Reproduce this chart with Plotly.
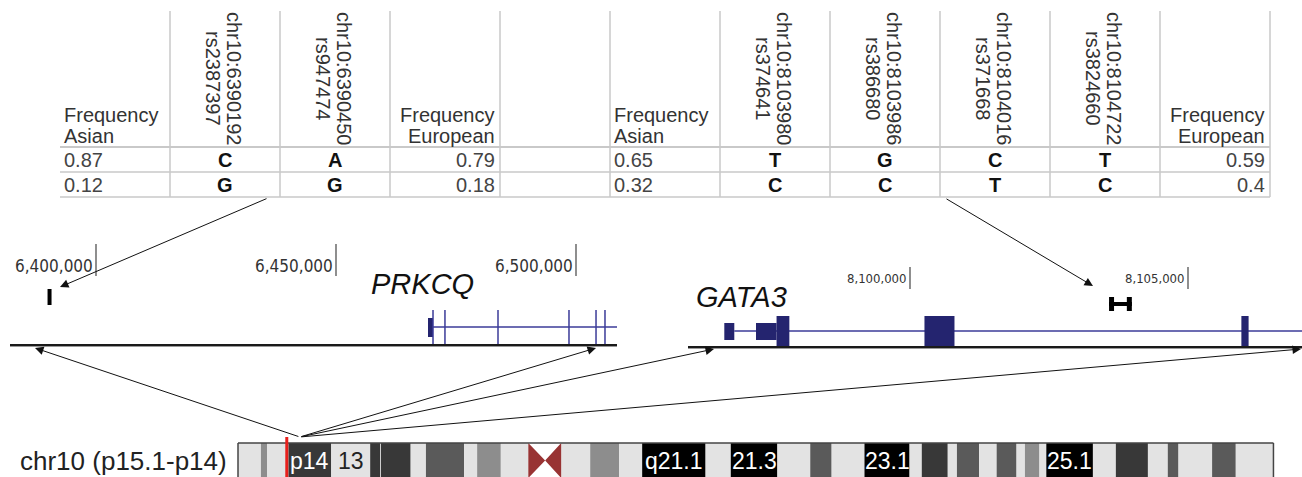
import plotly.graph_objects as go

W, H = 1302, 477

# ---------------- data ----------------
left_snp_pos = ["chr10:6390192", "chr10:6390450"]
left_snp_rs = ["rs2387397", "rs947474"]
left_major = ["C", "A"]
left_minor = ["G", "G"]
left_freq_asian = ["0.87", "0.12"]
left_freq_european = ["0.79", "0.18"]

right_snp_pos = ["chr10:8103980", "chr10:8103986", "chr10:8104016", "chr10:8104722"]
right_snp_rs = ["rs374641", "rs386680", "rs371668", "rs3824660"]
right_major = ["T", "G", "C", "T"]
right_minor = ["C", "C", "T", "C"]
right_freq_asian = ["0.65", "0.32"]
right_freq_european = ["0.59", "0.4"]

# PRKCQ region (bp)
prkcq_ticks = [6400000, 6450000, 6500000]
prkcq_snp_marker = [6390192, 6390450]
prkcq_utr = [6469170, 6470210]
prkcq_exon_marks = [6470210, 6472700, 6483750, 6498540, 6504170, 6506040]

# GATA3 region (bp)
gata3_ticks = [8100000, 8105000]
gata3_snp_marker = [8103580, 8103990]
gata3_utr_start = [8096660, 8097230]
gata3_utr_end = [8096840, 8097600]
gata3_cds_start = [8097600, 8100260, 8105960]
gata3_cds_end = [8097830, 8100800, 8106090]

# chr10 cytobands (Mb)
band_name = ["p15.3", "p15.2", "p15.1", "p14", "p13", "p12.33", "p12.32", "p12.31", "p12.2", "p12.1",
             "p11.23", "p11.22", "p11.21", "p11.1", "q11.1", "q11.21", "q11.22", "q11.23", "q21.1",
             "q21.2", "q21.3", "q22.1", "q22.2", "q22.3", "q23.1", "q23.2", "q23.31", "q23.32",
             "q23.33", "q24.1", "q24.2", "q24.31", "q24.32", "q24.33", "q25.1", "q25.2", "q25.3",
             "q26.11", "q26.12", "q26.13", "q26.2", "q26.3"]
band_start = [0.0, 3.0, 3.8, 6.6, 12.2, 17.3, 18.6, 18.7, 22.6, 24.6, 29.6, 31.3, 34.4, 38.0, 40.2,
              42.3, 46.1, 49.9, 52.9, 61.2, 64.5, 70.6, 74.9, 77.7, 82.0, 87.9, 89.5, 92.9, 94.1,
              97.0, 99.3, 101.9, 103.0, 104.9, 105.8, 111.9, 114.9, 119.1, 121.7, 123.1, 127.5, 130.6]
band_end = band_start[1:] + [135.53]
band_stain = ["gneg", "gpos25", "gneg", "gpos75", "gneg", "gpos75", "gneg", "gpos75", "gneg", "gpos50",
              "gneg", "gpos25", "gneg", "acen", "acen", "gneg", "gpos25", "gneg", "gpos100",
              "gneg", "gpos100", "gneg", "gpos50", "gneg", "gpos100", "gneg", "gpos75", "gneg",
              "gpos50", "gneg", "gpos50", "gneg", "gpos25", "gneg", "gpos100", "gneg", "gpos75",
              "gneg", "gpos50", "gneg", "gpos50", "gneg"]
band_label_names = ["p14", "p13", "q21.1", "q21.3", "q23.1", "q25.1"]
band_label_texts = ["p14", "13", "q21.1", "21.3", "23.1", "25.1"]
selected_mb = 6.45
apex_mb = 8.1
chrom_label = "chr10 (p15.1-p14)"

# ---------------- layout constants ----------------
SANS = "Liberation Sans, Arial, sans-serif"
NARROW = "Liberation Sans Narrow, Arial Narrow, DejaVu Sans Condensed, Liberation Sans, sans-serif"
GRID = "#c9c9c9"
TXT = "#333333"

TX0, COLW = 60, 110
T_TOP, T_HEAD, ROWH = 11, 147, 25

P_REF, P_X, P_S = 6400000, 96, 4.8e-3
P_VIEW = (10, 617)
P_BASE, P_LINE = 345, 327

G_REF, G_X, G_S = 8100000, 910, 0.0556
G_VIEW = (688, 1302)
G_BASE, G_LINE = 347, 331

I_X0, I_S = 238, 7.64
I_TOP, I_BOT = 443, 478

STAIN = {"gneg": "#e3e3e3", "gpos25": "#8d8d8d", "gpos50": "#5a5a5a",
         "gpos75": "#383838", "gpos100": "#000000"}
GENE_BOX = "#24246f"
GENE_LINE = "#3b3b98"


def px_p(bp):
    return P_X + (bp - P_REF) * P_S


def px_g(bp):
    return G_X + (bp - G_REF) * G_S


def px_i(mb):
    return I_X0 + mb * I_S


shapes, anns = [], []


def line(x0, y0, x1, y1, color, w):
    shapes.append(dict(type="line", x0=x0, y0=y0, x1=x1, y1=y1, xref="x", yref="y",
                       line=dict(color=color, width=w)))


def rect(x0, y0, x1, y1, fill, lw=0, lc=None):
    shapes.append(dict(type="rect", x0=x0, y0=y0, x1=x1, y1=y1, xref="x", yref="y",
                       fillcolor=fill, line=dict(width=lw, color=lc or fill)))


def text(x, y, t, size, color=TXT, xa="center", ya="middle", family=SANS, angle=0):
    anns.append(dict(x=x, y=y, text=t, showarrow=False, xref="x", yref="y",
                     xanchor=xa, yanchor=ya, textangle=angle,
                     font=dict(size=size, color=color, family=family)))


def arrow(x0, y0, x1, y1):
    anns.append(dict(x=x1, y=y1, ax=x0, ay=y0, xref="x", yref="y", axref="x", ayref="y",
                     text="", showarrow=True, arrowhead=2, arrowsize=1.7, arrowwidth=1,
                     arrowcolor="#111111"))


# ---------------- table ----------------
ncols = 11
edges = [TX0 + COLW * i for i in range(ncols + 1)]
rows_y = [T_HEAD, T_HEAD + ROWH, T_HEAD + 2 * ROWH]
for xe in edges[1:]:
    line(xe, T_TOP, xe, rows_y[-1], GRID, 1.5)
for k, yy in enumerate(rows_y):
    line(edges[0], yy, edges[-1], yy, GRID, 2 if k == 0 else 1.5)


def table_block(c0, snp_pos, snp_rs, major, minor, fa, fe):
    text(edges[c0] + 2, 115, "Frequency", 20, xa="left")
    text(edges[c0] + 2, 136, "Asian", 20, xa="left")
    text(edges[c0] + 2, 160, fa[0], 20, color="#444", xa="left")
    text(edges[c0] + 2, 185, fa[1], 20, color="#444", xa="left")
    for i in range(len(snp_pos)):
        cx = (edges[c0 + 1 + i] + edges[c0 + 2 + i]) / 2
        text(cx + 9, 78, snp_pos[i], 20, angle=90)
        text(cx - 12, 78, snp_rs[i], 20, angle=90)
        text(cx, 160, "<b>%s</b>" % major[i], 20, color="#111")
        text(cx, 185, "<b>%s</b>" % minor[i], 20, color="#111")
    ce = c0 + 1 + len(snp_pos)
    text(edges[ce + 1] - 3, 115, "Frequency", 20, xa="right")
    text(edges[ce + 1] - 3, 136, "European", 20, xa="right")
    text(edges[ce + 1] - 3, 160, fe[0], 20, color="#444", xa="right")
    text(edges[ce + 1] - 3, 185, fe[1], 20, color="#444", xa="right")


table_block(0, left_snp_pos, left_snp_rs, left_major, left_minor, left_freq_asian, left_freq_european)
table_block(5, right_snp_pos, right_snp_rs, right_major, right_minor, right_freq_asian, right_freq_european)

# ---------------- PRKCQ track ----------------
for t in prkcq_ticks:
    x = px_p(t)
    line(x, 244, x, 276, "#444", 1.2)
    text(x - 1, 266, "{:,}".format(t), 17, color="#333", xa="right", family=NARROW)
mx0, mx1 = px_p(min(prkcq_snp_marker)), px_p(max(prkcq_snp_marker))
mc = (mx0 + mx1) / 2
rect(mc - 2, 289, mc + 2, 305, "#000000")
text(422, 284, "<i>PRKCQ</i>", 29, color="#111")
line(px_p(prkcq_utr[0]), P_LINE, P_VIEW[1], P_LINE, GENE_LINE, 1.5)
rect(px_p(prkcq_utr[0]), 318, px_p(prkcq_utr[1]), 337, GENE_BOX)
for e in prkcq_exon_marks:
    line(px_p(e), 310, px_p(e), P_BASE, GENE_LINE, 1.5)
line(P_VIEW[0], P_BASE + 1.5, P_VIEW[1], P_BASE + 1.5, "#999", 1)
line(P_VIEW[0], P_BASE, P_VIEW[1], P_BASE, "#1a1a1a", 2)

# ---------------- GATA3 track ----------------
for t in gata3_ticks:
    x = px_g(t)
    line(x, 267, x, 289, "#444", 1.2)
    text(x - 1, 278, "{:,}".format(t), 13, color="#333", xa="right", family=NARROW)
gx0, gx1 = px_g(gata3_snp_marker[0]), px_g(gata3_snp_marker[1])
rect(gx0, 297, gx0 + 5, 311, "#000000")
rect(gx1 - 5, 297, gx1, 311, "#000000")
rect(gx0, 302, gx1, 306, "#000000")
text(741, 297, "<i>GATA3</i>", 29, color="#111")
line(px_g(gata3_utr_end[0]), G_LINE, G_VIEW[1], G_LINE, GENE_LINE, 1.5)
for s, e in zip(gata3_utr_start, gata3_utr_end):
    rect(px_g(s), 323, px_g(e), 340, GENE_BOX)
for s, e in zip(gata3_cds_start, gata3_cds_end):
    rect(px_g(s), 316, px_g(e), G_BASE, GENE_BOX)
line(G_VIEW[0], G_BASE + 1.5, G_VIEW[1], G_BASE + 1.5, "#999", 1)
line(G_VIEW[0], G_BASE, G_VIEW[1], G_BASE, "#1a1a1a", 2)

# ---------------- ideogram ----------------
text(229, 461, chrom_label, 26, color="#222", xa="right")
for n, s, e, st in zip(band_name, band_start, band_end, band_stain):
    if st == "acen":
        continue
    rect(px_i(s), I_TOP, px_i(e), I_BOT, STAIN[st])
acen = [i for i, st in enumerate(band_stain) if st == "acen"]
cl, cr = px_i(band_start[acen[0]]), px_i(band_end[acen[-1]])
cm = px_i(band_end[acen[0]])
ym = (I_TOP + I_BOT) / 2
shapes.append(dict(type="path", xref="x", yref="y", fillcolor="#983333", line=dict(width=0),
                   path=f"M {cl},{I_TOP} L {cm},{ym} L {cl},{I_BOT} Z M {cr},{I_TOP} L {cm},{ym} L {cr},{I_BOT} Z"))
line(px_i(band_start[0]), I_TOP, px_i(band_end[-1]), I_TOP, "#444", 1.5)
line(px_i(band_start[0]), I_TOP, px_i(band_start[0]), I_BOT, "#444", 1.5)
line(px_i(band_end[-1]), I_TOP, px_i(band_end[-1]), I_BOT, "#444", 1.5)
for n, lbl in zip(band_label_names, band_label_texts):
    i = band_name.index(n)
    dark = band_stain[i] in ("gpos75", "gpos100")
    text((px_i(band_start[i]) + px_i(band_end[i])) / 2, 461, lbl, 23,
         color="#ffffff" if dark else "#222", family=SANS)
line(px_i(selected_mb) - 0.5, 437, px_i(selected_mb) - 0.5, I_BOT, "#e8201c", 3)

# ---------------- arrows ----------------
arrow(268, 198, 60, 287)
arrow(945, 198, 1093, 286)
apx, apy = px_i(apex_mb), 437
arrow(apx, apy, 35, 348)
arrow(apx, apy, 596, 348)
arrow(apx, apy, 714, 349)
arrow(apx, apy, 1301, 349)

fig = go.Figure()
fig.update_layout(
    width=W, height=H, margin=dict(l=0, r=0, t=0, b=0),
    paper_bgcolor="white", plot_bgcolor="white",
    xaxis=dict(range=[0, W], visible=False, fixedrange=True),
    yaxis=dict(range=[H, 0], visible=False, fixedrange=True),
    shapes=shapes, annotations=anns, showlegend=False,
)
fig.write_html("out.html", config={"displayModeBar": False},
               post_script="document.body.style.margin='0';document.body.style.overflow='hidden';")
